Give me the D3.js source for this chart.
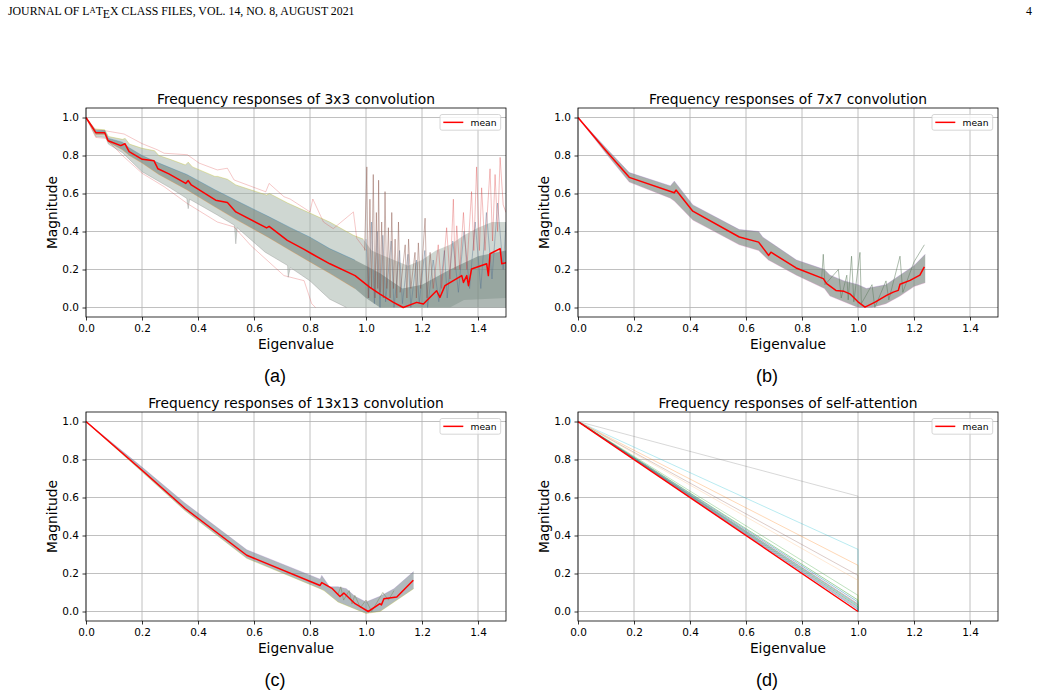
<!DOCTYPE html>
<html><head><meta charset="utf-8">
<script src="https://cdn.jsdelivr.net/npm/d3@7"></script>
<style>body{margin:0;background:#fff}</style>
</head><body>
<svg id="c" width="1041" height="698"></svg>
<script>
// ---------- data ----------
const xTicks = [0.0, 0.2, 0.4, 0.6, 0.8, 1.0, 1.2, 1.4];
const yTicks = [0.0, 0.2, 0.4, 0.6, 0.8, 1.0];
const titles = ["Frequency responses of 3x3 convolution", "Frequency responses of 7x7 convolution",
                "Frequency responses of 13x13 convolution", "Frequency responses of self-attention"];
const captions = ["(a)", "(b)", "(c)", "(d)"];
const xLabel = "Eigenvalue";
const yLabel = "Magnitude";
const legendLabel = "mean";

// (a) 3x3
const meanA = [[0,1.0],[0.035,0.92],[0.067,0.92],[0.079,0.878],[0.124,0.852],[0.139,0.862],[0.154,0.82],[0.201,0.78],[0.243,0.772],[0.257,0.73],[0.296,0.703],[0.356,0.653],[0.365,0.668],[0.376,0.645],[0.463,0.565],[0.505,0.553],[0.535,0.503],[0.645,0.419],[0.654,0.427],[0.719,0.353],[0.779,0.306],[0.806,0.283],[0.871,0.23],[0.961,0.168],[1.014,0.106],[1.05,0.07],[1.098,0.027],[1.133,0.0],[1.181,0.027],[1.205,0.018],[1.252,0.088],[1.264,0.053],[1.282,0.115],[1.342,0.168],[1.348,0.132],[1.36,0.168],[1.366,0.115],[1.377,0.203],[1.431,0.23],[1.437,0.168],[1.443,0.283],[1.479,0.31],[1.485,0.23],[1.5,0.235]];
const bandUpperA = [[0,1.0],[0.03,0.94],[0.067,0.935],[0.08,0.9],[0.13,0.885],[0.14,0.89],[0.155,0.86],[0.2,0.838],[0.245,0.825],[0.26,0.8],[0.3,0.78],[0.355,0.75],[0.365,0.765],[0.38,0.74],[0.46,0.69],[0.47,0.69],[0.505,0.675],[0.535,0.645],[0.645,0.592],[0.655,0.6],[0.72,0.55],[0.78,0.51],[0.87,0.45],[0.955,0.38],[0.99,0.36],[1.02,0.3],[1.05,0.28],[1.1,0.25],[1.15,0.22],[1.2,0.25],[1.25,0.3],[1.3,0.33],[1.35,0.38],[1.4,0.42],[1.45,0.45],[1.5,0.45]];
const bandLowerA = [[0,1.0],[0.035,0.9],[0.07,0.895],[0.08,0.86],[0.13,0.815],[0.2,0.715],[0.3,0.63],[0.36,0.574],[0.365,0.52],[0.37,0.57],[0.47,0.486],[0.53,0.433],[0.535,0.335],[0.54,0.42],[0.64,0.291],[0.72,0.221],[0.722,0.159],[0.73,0.21],[0.8,0.14],[0.87,0.044],[0.93,0.0],[1.3,0.0],[1.35,0.04],[1.5,0.05]];
const coreUpperA = [[0,1.0],[0.035,0.93],[0.067,0.93],[0.08,0.89],[0.13,0.87],[0.155,0.84],[0.2,0.8],[0.26,0.76],[0.36,0.7],[0.46,0.62],[0.54,0.56],[0.65,0.48],[0.73,0.42],[0.8,0.37],[0.87,0.31],[0.96,0.25],[1.0,0.22],[1.05,0.18],[1.13,0.1],[1.2,0.12],[1.3,0.2],[1.4,0.27],[1.5,0.3]];
const coreLowerA = [[0,1.0],[0.035,0.91],[0.067,0.91],[0.08,0.87],[0.13,0.83],[0.155,0.8],[0.2,0.76],[0.26,0.7],[0.36,0.62],[0.46,0.53],[0.54,0.46],[0.65,0.37],[0.73,0.3],[0.8,0.24],[0.87,0.18],[0.96,0.1],[1.0,0.05],[1.05,0.0],[1.5,0.0]];
const outerHighA = [[0,1.0],[0.035,0.935],[0.07,0.93],[0.136,0.913],[0.201,0.862],[0.255,0.83],[0.279,0.812],[0.362,0.804],[0.404,0.76],[0.469,0.724],[0.505,0.733],[0.529,0.671],[0.642,0.609],[0.654,0.653],[0.707,0.583],[0.729,0.571],[0.8,0.503],[0.81,0.571],[0.848,0.45],[0.883,0.415],[0.955,0.503],[0.967,0.364],[1.0,0.3]];
const outerLowA = [[0,1.0],[0.035,0.895],[0.07,0.89],[0.13,0.8],[0.201,0.706],[0.279,0.636],[0.362,0.547],[0.469,0.45],[0.529,0.424],[0.588,0.327],[0.707,0.168],[0.779,0.141],[0.806,0.02],[0.82,0.0]];
const spikesA1 = [[0.995,0.3],[1.003,0.74],[1.008,0.05],[1.014,0.57],[1.02,0.1],[1.026,0.7],[1.032,0.05],[1.037,0.5],[1.042,0.1],[1.045,0.67],[1.05,0.08],[1.056,0.45],[1.062,0.05],[1.068,0.61],[1.074,0.1],[1.08,0.42],[1.086,0.05],[1.092,0.5],[1.098,0.1],[1.104,0.36],[1.11,0.05],[1.116,0.45],[1.122,0.08],[1.14,0.33],[1.146,0.05],[1.152,0.36],[1.16,0.1],[1.175,0.29],[1.18,0.05],[1.187,0.34],[1.195,0.1],[1.211,0.47],[1.218,0.05],[1.229,0.29],[1.24,0.1]];
const spikesA2 = [[1.24,0.1],[1.258,0.33],[1.27,0.1],[1.288,0.42],[1.3,0.15],[1.312,0.57],[1.318,0.2],[1.324,0.43],[1.335,0.2],[1.348,0.5],[1.36,0.2],[1.377,0.61],[1.385,0.3],[1.395,0.74],[1.405,0.3],[1.413,0.63],[1.425,0.3],[1.443,0.73],[1.452,0.35],[1.461,0.7],[1.47,0.4],[1.479,0.79],[1.49,0.54],[1.5,0.5]];
const spikesA3 = [[1.0,0.36],[1.01,0.05],[1.02,0.45],[1.03,0.02],[1.04,0.4],[1.05,0.0],[1.06,0.38],[1.07,0.03],[1.09,0.35],[1.1,0.0],[1.12,0.3],[1.13,0.02],[1.15,0.28],[1.16,0.0],[1.18,0.25],[1.19,0.02],[1.21,0.3],[1.22,0.0],[1.24,0.25],[1.26,0.03],[1.28,0.3],[1.29,0.05],[1.31,0.35],[1.33,0.08],[1.35,0.4],[1.37,0.1],[1.39,0.45],[1.41,0.1],[1.43,0.5],[1.45,0.15],[1.47,0.55],[1.49,0.2],[1.5,0.45]];

// (b) 7x7
const meanB = [[0,1.0],[0.1,0.825],[0.183,0.685],[0.344,0.604],[0.35,0.618],[0.41,0.507],[0.576,0.371],[0.645,0.344],[0.681,0.274],[0.689,0.291],[0.779,0.208],[0.876,0.152],[0.888,0.126],[0.921,0.09],[0.95,0.085],[0.971,0.072],[1.0,0.03],[1.025,0.002],[1.061,0.028],[1.102,0.064],[1.126,0.081],[1.144,0.09],[1.15,0.122],[1.186,0.143],[1.221,0.17],[1.237,0.214]];
const bandUpperB = [[0,1.0],[0.1,0.84],[0.183,0.71],[0.33,0.64],[0.344,0.665],[0.41,0.54],[0.576,0.41],[0.645,0.4],[0.66,0.37],[0.7,0.33],[0.78,0.25],[0.88,0.2],[0.9,0.17],[0.95,0.14],[1.0,0.12],[1.03,0.1],[1.1,0.12],[1.15,0.17],[1.2,0.22],[1.24,0.28]];
const bandLowerB = [[0,1.0],[0.1,0.81],[0.183,0.66],[0.33,0.575],[0.344,0.56],[0.41,0.46],[0.576,0.33],[0.645,0.3],[0.68,0.25],[0.78,0.17],[0.88,0.1],[0.9,0.06],[0.95,0.03],[1.0,0.0],[1.05,0.0],[1.1,0.02],[1.15,0.06],[1.2,0.11],[1.24,0.13]];
const spikesB = [[0.87,0.15],[0.876,0.28],[0.882,0.12],[0.93,0.2],[0.94,0.05],[0.96,0.17],[0.965,0.04],[0.977,0.27],[0.985,0.03],[1.007,0.29],[1.012,0.02],[1.05,0.12],[1.06,0.0],[1.1,0.14],[1.11,0.04],[1.15,0.27],[1.16,0.08],[1.2,0.24],[1.237,0.33]];

// (c) 13x13
const meanC = [[0,1.0],[0.199,0.745],[0.354,0.542],[0.574,0.296],[0.836,0.137],[0.842,0.152],[0.88,0.12],[0.907,0.079],[0.921,0.097],[0.961,0.041],[0.979,0.026],[1.008,0.0],[1.05,0.041],[1.055,0.035],[1.064,0.067],[1.11,0.076],[1.169,0.164]];
const bandUpperC = [[0,1.0],[0.2,0.76],[0.354,0.57],[0.574,0.325],[0.836,0.17],[0.842,0.19],[0.87,0.13],[0.9,0.13],[0.93,0.12],[0.96,0.08],[1.0,0.05],[1.05,0.08],[1.1,0.12],[1.17,0.21]];
const bandLowerC = [[0,1.0],[0.2,0.735],[0.354,0.53],[0.574,0.28],[0.836,0.12],[0.85,0.11],[0.9,0.05],[0.95,0.02],[1.0,-0.01],[1.05,0.0],[1.1,0.05],[1.17,0.12]];
const spikesC = [[0.9,0.09],[0.91,0.13],[0.92,0.06],[0.94,0.11],[0.95,0.04],[0.96,0.085],[0.98,0.02],[1.0,0.06],[1.02,0.0],[1.06,0.1],[1.08,0.06],[1.1,0.11]];

// (d) self-attention: each response goes from (0,1) to an end value at eigenvalue 1.0
const meanD = [[0,1.0],[1.0,0.0]];
const endEigD = 1.0;
const endValuesD = [0.607, 0.327, 0.243, 0.19, 0.164, 0.085, 0.06, 0.05, 0.04, 0.035, 0.03, 0.025, 0.02, 0.015, 0.01];
const endColorsD = ["#7f7f7f", "#17becf", "#ff7f0e", "#8c564b", "#ffbb78", "#2ca02c", "#2ca02c", "#1f77b4", "#7f7f7f", "#8c564b", "#17becf", "#2ca02c", "#9467bd", "#7f7f7f", "#1f77b4"];

// ---------- drawing ----------
const svg = d3.select("#c");
const W = 420, H = 209;
const FONT = "DejaVu Sans, sans-serif";
const SERIF = "Liberation Serif, Times New Roman, serif";

// header
const hdr = svg.append("text").attr("x", 8).attr("y", 15).attr("font-family", SERIF).attr("font-size", 11.8).attr("fill", "#000");
hdr.append("tspan").text("JOURNAL OF L");
hdr.append("tspan").attr("font-size", 8.5).attr("dy", -2.5).text("A");
hdr.append("tspan").attr("dy", 2.5).text("T");
hdr.append("tspan").attr("dy", 2.8).text("E");
hdr.append("tspan").attr("dy", -2.8).text("X");
hdr.append("tspan").text(" CLASS FILES, VOL. 14, NO. 8, AUGUST 2021");
svg.append("text").attr("x", 1032).attr("y", 15).attr("text-anchor", "end").attr("font-family", SERIF).attr("font-size", 11.8).text("4");

const panels = [
  {key: "a", left: 86, top: 108, title: titles[0], caption: captions[0], mean: meanA,
   bands: [{upper: bandUpperA, lower: bandLowerA, color: "#9fb0a6", opacity: 0.5},
           {upper: coreUpperA, lower: coreLowerA, color: "#6c7d76", opacity: 0.55}],
   lines: [{data: outerHighA, color: "#d62728", opacity: 0.25}, {data: outerLowA, color: "#d62728", opacity: 0.25},
           {data: bandUpperA.filter(d => d[0] < 1), color: "#bcbd22", opacity: 0.35}, {data: bandLowerA.filter(d => d[0] < 0.95), color: "#7f7f7f", opacity: 0.3},
           {data: coreUpperA.filter(d => d[0] < 1), color: "#1f77b4", opacity: 0.3}, {data: coreLowerA.filter(d => d[0] < 1), color: "#ff7f0e", opacity: 0.25},
           {data: spikesA3, color: "#4f6f8f", opacity: 0.4},
           {data: spikesA1, color: "#8c564b", opacity: 0.45}, {data: spikesA2, color: "#d62728", opacity: 0.3}]},
  {key: "b", left: 578, top: 108, title: titles[1], caption: captions[1], mean: meanB,
   bands: [{upper: bandUpperB, lower: bandLowerB, color: "#6f7d74", opacity: 0.6}],
   lines: [{data: bandUpperB, color: "#9467bd", opacity: 0.3}, {data: bandLowerB, color: "#e377c2", opacity: 0.25},
           {data: spikesB, color: "#5b7a5b", opacity: 0.5}]},
  {key: "c", left: 86, top: 412, title: titles[2], caption: captions[2], mean: meanC,
   bands: [{upper: bandUpperC, lower: bandLowerC, color: "#6f7f86", opacity: 0.55}],
   lines: [{data: bandUpperC, color: "#9467bd", opacity: 0.25}, {data: bandLowerC, color: "#bcbd22", opacity: 0.3},
           {data: spikesC, color: "#7a8a5a", opacity: 0.5}]},
  {key: "d", left: 578, top: 412, title: titles[3], caption: captions[3], mean: meanD,
   bands: [],
   lines: endValuesD.map((v, i) => ({data: [[0, 1.0], [endEigD, v], [endEigD, 0.0]], color: endColorsD[i], opacity: i < 6 ? 0.3 : 0.45}))}
];

panels.forEach(p => {
  const x = d3.scaleLinear().domain([0, 1.5]).range([p.left, p.left + W]);
  const y = d3.scaleLinear().domain([-0.05, 1.05]).range([p.top + H, p.top]);
  const g = svg.append("g");
  const clipId = "clip" + p.key;
  svg.append("clipPath").attr("id", clipId).append("rect").attr("x", p.left).attr("y", p.top).attr("width", W).attr("height", H);

  // grid
  g.selectAll(".gx").data(xTicks).join("line").attr("x1", d => x(d)).attr("x2", d => x(d)).attr("y1", p.top).attr("y2", p.top + H).attr("stroke", "#b0b0b0").attr("stroke-width", 0.8);
  g.selectAll(".gy").data(yTicks).join("line").attr("y1", d => y(d)).attr("y2", d => y(d)).attr("x1", p.left).attr("x2", p.left + W).attr("stroke", "#b0b0b0").attr("stroke-width", 0.8);

  const plot = g.append("g").attr("clip-path", `url(#${clipId})`);
  const line = d3.line().x(d => x(d[0])).y(d => y(d[1]));
  p.bands.forEach(b => plot.append("path").attr("d", line(b.upper.concat(b.lower.slice().reverse())) + "Z").attr("fill", b.color).attr("fill-opacity", b.opacity));
  p.lines.forEach(l => plot.append("path").attr("d", line(l.data)).attr("fill", "none").attr("stroke", l.color).attr("stroke-opacity", l.opacity).attr("stroke-width", 1));
  plot.append("path").attr("d", line(p.mean)).attr("fill", "none").attr("stroke", "#ff0000").attr("stroke-width", 1.5).attr("stroke-linejoin", "round");

  // frame
  g.append("rect").attr("x", p.left).attr("y", p.top).attr("width", W).attr("height", H).attr("fill", "none").attr("stroke", "#000").attr("stroke-width", 0.8);

  // axes
  const ax = g.append("g").attr("transform", `translate(0,${p.top + H})`)
    .call(d3.axisBottom(x).tickValues(xTicks).tickFormat(d3.format(".1f")).tickSizeOuter(0).tickSizeInner(3.5).tickPadding(4));
  ax.select(".domain").remove();
  ax.selectAll("text").attr("font-family", FONT).attr("font-size", 10.5).attr("fill", "#000");
  ax.selectAll("line").attr("stroke-width", 0.8);
  const ay = g.append("g").attr("transform", `translate(${p.left},0)`)
    .call(d3.axisLeft(y).tickValues(yTicks).tickFormat(d3.format(".1f")).tickSizeOuter(0).tickSizeInner(3.5).tickPadding(3.5));
  ay.select(".domain").remove();
  ay.selectAll("text").attr("font-family", FONT).attr("font-size", 10.5).attr("fill", "#000");
  ay.selectAll("line").attr("stroke-width", 0.8);

  // texts
  const cx = p.left + W / 2;
  g.append("text").attr("x", cx).attr("y", p.top - 4.5).attr("text-anchor", "middle").attr("font-family", FONT).attr("font-size", 13.8).text(p.title);
  g.append("text").attr("x", cx).attr("y", p.top + 241).attr("text-anchor", "middle").attr("font-family", FONT).attr("font-size", 13.8).text(xLabel);
  g.append("text").attr("transform", `translate(${p.left - 29},${p.top + H / 2}) rotate(-90)`).attr("text-anchor", "middle").attr("font-family", FONT).attr("font-size", 13.8).text(yLabel);
  g.append("text").attr("x", cx - 21).attr("y", p.top + 274).attr("text-anchor", "middle").attr("font-family", "Liberation Sans, Arial, sans-serif").attr("font-size", 18).text(p.caption);

  // legend
  const lw = 60.7, lh = 15.7;
  const lx = p.left + W - 5.3 - lw, ly = p.top + 6.5;
  g.append("rect").attr("x", lx).attr("y", ly).attr("width", lw).attr("height", lh).attr("rx", 2).attr("fill", "#fff").attr("fill-opacity", 0.8).attr("stroke", "#cccccc").attr("stroke-width", 0.8);
  g.append("line").attr("x1", lx + 3.3).attr("x2", lx + 23.3).attr("y1", ly + lh / 2).attr("y2", ly + lh / 2).attr("stroke", "#ff0000").attr("stroke-width", 1.5);
  g.append("text").attr("x", lx + 30.5).attr("y", ly + lh / 2 + 3.3).attr("font-family", FONT).attr("font-size", 9.2).text(legendLabel);
});
</script>
</body></html>
